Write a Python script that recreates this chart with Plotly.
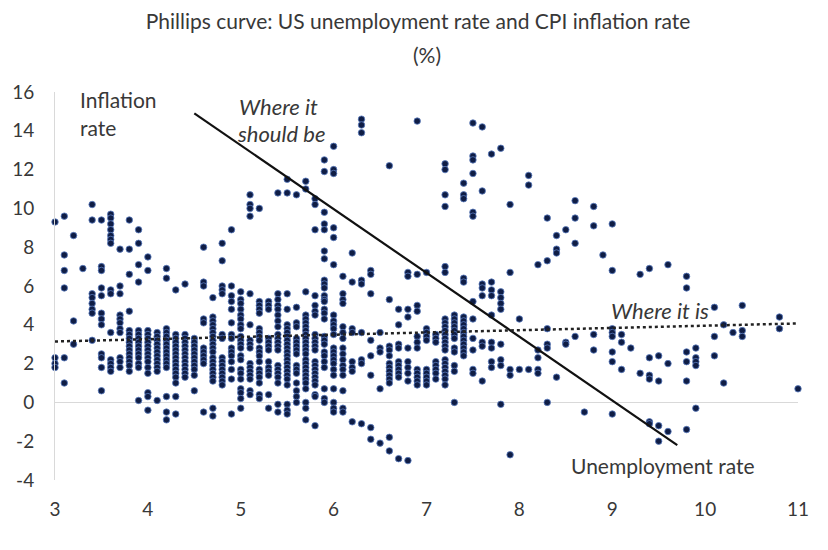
import plotly.graph_objects as go

# unemployment rate columns (x) and the CPI inflation readings stacked in each
unemp_low = [3.0, 3.1, 3.2, 3.3, 3.4, 3.5, 3.6, 3.7, 3.8, 3.9,
             4.0, 4.1, 4.2, 4.3, 4.4, 4.5, 4.6, 4.7, 4.8, 4.9]
infl_low = [
    [9.3, 2.3, 2.0, 1.8],
    [9.6, 7.6, 6.8, 5.9, 2.3, 1.0],
    [8.6, 4.2, 3.0],
    [6.9],
    [10.2, 9.4, 5.6, 5.4, 5.1, 4.8, 4.6, 3.2],
    [9.4, 7.0, 6.8, 5.9, 5.5, 4.6, 4.3, 4.0, 2.5, 2.3, 1.8, 0.6],
    [9.7, 9.5, 9.2, 8.9, 8.6, 8.4, 8.2, 5.8, 5.6, 3.6, 2.2, 2.0, 1.8, 1.6],
    [7.9, 6.0, 5.6, 4.5, 4.3, 4.1, 3.8, 3.6, 2.3, 2.1, 1.8],
    [9.4, 7.9, 6.6, 4.7, 3.7, 3.5, 3.3, 3.1, 2.9, 2.7, 2.5, 2.3, 2.1, 1.9, 1.6],
    [8.9, 8.2, 7.1, 6.2, 3.7, 3.5, 3.3, 3.1, 2.9, 2.7, 2.5, 2.3, 2.0, 1.8, 0.1],
    [7.5, 6.8, 3.7, 3.5, 3.3, 3.1, 2.9, 2.7, 2.5, 2.3, 2.1, 1.8, 1.5, 0.5, 0.3, -0.4],
    [3.6, 3.4, 3.2, 3.0, 2.8, 2.6, 2.4, 2.2, 2.0, 1.8, 1.6, 0.1],
    [6.9, 6.4, 3.8, 3.6, 3.4, 3.2, 3.0, 2.8, 2.6, 2.4, 2.2, 2.0, 1.8, 0.3, -0.5, -0.9],
    [5.8, 3.5, 3.3, 3.1, 2.9, 2.7, 2.5, 2.3, 2.1, 1.9, 1.7, 1.5, 1.3, 1.0, 0.3, -0.6],
    [6.1, 3.5, 3.3, 3.1, 2.9, 2.7, 2.5, 2.3, 2.1, 1.9, 1.7, 1.5, 1.3],
    [3.3, 3.1, 2.9, 2.7, 2.5, 2.3, 2.1, 1.9, 1.7, 1.4, 0.6],
    [8.0, 6.2, 6.0, 4.3, 4.1, 2.8, 2.6, 2.4, 2.2, 2.0, -0.5],
    [5.4, 4.4, 4.2, 4.0, 3.8, 3.6, 3.4, 3.2, 3.0, 2.8, 2.6, 2.3, 2.1, 1.9, 1.7,
     1.5, 1.3, 1.1, -0.3, -0.7],
    [8.2, 7.3, 6.0, 5.8, 5.6, 3.5, 3.3, 2.3, 2.1, 1.9, 1.7, 1.5, 1.3, 1.1, 0.9],
    [8.9, 6.0, 5.5, 5.2, 4.8, 4.1, 3.5, 3.3, 2.8, 2.6, 2.4, 2.1, 1.7, 1.2, -0.6],
]

unemp_mid = [5.0, 5.1, 5.2, 5.3, 5.4, 5.5, 5.6, 5.7, 5.8, 5.9,
             6.0, 6.1, 6.2, 6.3, 6.4, 6.5, 6.6, 6.7, 6.8, 6.9]
infl_mid = [
    [5.7, 5.3, 5.1, 4.8, 4.5, 4.3, 4.0, 3.8, 3.4, 3.2, 3.0, 2.8, 2.4, 2.2, 1.7,
     1.5, 1.2, 0.7, 0.5, 0.2, -0.3],
    [10.7, 10.2, 10.0, 9.6, 5.6, 4.0, 3.2, 3.0, 2.8, 2.0, 1.8, 1.6, 1.4, 1.2, 0.6, 0.4],
    [10.0, 5.2, 5.0, 4.8, 4.6, 3.8, 3.6, 3.4, 3.2, 2.8, 2.6, 2.4, 2.1, 1.7, 1.5,
     1.3, 1.0, 0.4, 0.2],
    [5.2, 5.0, 4.8, 3.3, 3.1, 2.9, 2.7, 2.1, 1.8, 1.6, 1.4, 0.4, -0.3],
    [10.8, 5.6, 5.3, 5.0, 4.8, 4.5, 4.2, 3.9, 3.5, 3.3, 3.1, 2.9, 2.7, 1.9, 1.7,
     1.5, 1.3, 1.0, -0.1, -0.5],
    [11.5, 10.8, 5.6, 4.8, 4.0, 3.8, 3.6, 3.4, 3.2, 3.0, 2.8, 2.6, 2.4, 2.2, 2.0,
     1.8, 1.6, 1.4, 1.2, 0.9, -0.1, -0.4, -0.6],
    [10.7, 4.9, 4.1, 3.9, 3.3, 3.1, 2.9, 2.7, 2.5, 1.9, 1.7, 1.5, 1.0, 0.6, 0.3, 0.0],
    [11.4, 11.0, 5.7, 4.5, 4.3, 4.1, 3.9, 3.7, 3.5, 3.3, 3.1, 2.9, 2.7, 2.5, 2.2,
     2.0, 1.8, 1.6, 1.4, 1.2, 1.0, 0.7, 0.0, -0.3, -0.9],
    [10.5, 10.2, 8.9, 5.5, 5.0, 4.7, 4.5, 3.5, 3.3, 3.1, 2.9, 2.7, 2.1, 1.9, 1.7,
     1.5, 1.3, 1.1, 0.9, 0.4, 0.3, -1.2],
    [12.5, 11.9, 9.8, 9.2, 8.9, 7.8, 7.4, 6.3, 6.1, 5.9, 5.5, 5.3, 5.2, 4.8, 4.6,
     4.3, 3.4, 3.2, 3.0, 2.6, 2.4, 2.1, 1.8, 0.7, 0.2, 0.0],
    [13.2, 12.0, 11.8, 9.0, 8.5, 7.1, 4.5, 4.2, 4.0, 3.8, 3.5, 2.8, 2.6, 2.4, 2.2,
     2.0, 1.7, 1.4, 0.7, 0.0, -0.3, -0.5],
    [6.5, 5.6, 5.3, 5.1, 3.9, 3.6, 3.3, 2.8, 2.5, 2.2, 1.9, 1.7, 1.4, 0.6, -0.3, -0.5],
    [7.7, 6.2, 3.8, 3.6, 2.1, 1.8, 1.6, -1.0],
    [14.6, 14.3, 13.9, 6.3, 6.1, 3.6, 2.2, 2.0, -1.1],
    [6.8, 6.6, 5.6, 3.2, 2.4, 1.4, -1.3, -1.9],
    [3.6, 2.8, 2.6, 0.7, -2.1],
    [12.2, 5.3, 2.9, 2.7, 2.4, 2.0, 1.8, 1.6, 1.4, 1.2, 1.0, -1.8, -2.5],
    [4.8, 4.0, 3.0, 2.8, 2.1, 1.9, 1.7, 1.5, 1.3, -2.9],
    [6.7, 6.5, 4.8, 4.4, 2.8, 2.1, 1.8, 1.5, 1.1, -3.0],
    [14.5, 6.6, 5.0, 4.7, 3.4, 3.1, 2.8, 1.7, 1.5, 1.3, 1.1, 0.9],
]

unemp_high = [7.0, 7.1, 7.2, 7.3, 7.4, 7.5, 7.6, 7.7, 7.8, 7.9,
              8.0, 8.1, 8.2, 8.3, 8.4, 8.5, 8.6, 8.7, 8.8, 8.9,
              9.0, 9.1, 9.2, 9.3, 9.4, 9.5, 9.6, 9.8, 9.9, 10.1,
              10.2, 10.3, 10.4, 10.8, 11.0]
infl_high = [
    [6.7, 3.8, 3.6, 3.4, 3.2, 1.7, 1.5, 1.3, 1.1, 0.9],
    [3.5, 3.3, 3.1, 2.1, 1.9, 1.7, 1.5, 1.2],
    [12.3, 12.0, 10.7, 10.1, 7.0, 6.7, 4.3, 4.1, 3.9, 3.7, 3.5, 3.3, 3.1, 2.9,
     2.7, 2.2, 2.0, 1.8, 1.6, 1.4, 1.2, 0.9],
    [4.5, 4.3, 4.1, 3.9, 3.7, 3.5, 3.3, 2.8, 2.6, 1.9, 1.6, 0.0],
    [11.3, 10.7, 10.5, 6.4, 6.2, 4.4, 4.2, 4.0, 3.8, 3.6, 3.4, 3.2, 3.0, 2.8, 2.6, 2.4],
    [14.4, 12.7, 12.5, 11.8, 9.8, 9.6, 5.2, 4.3, 3.3, 2.7, 1.7, 1.5],
    [14.2, 10.9, 6.1, 5.9, 5.5, 3.1, 2.9, 1.1],
    [12.8, 6.2, 5.8, 5.5, 4.5, 3.1, 2.8, 2.1, 1.8],
    [13.1, 5.7, 5.4, 5.1, 4.8, 3.0, 2.2, 1.9, -0.1],
    [10.2, 6.7, 1.7, 1.4, -2.7],
    [4.3, 1.7],
    [11.7, 11.2, 1.7],
    [7.1, 2.7, 2.3, 1.7, 1.5],
    [9.5, 7.3, 3.8, 3.0, 2.8, 0.0],
    [8.6, 7.9, 7.7, 1.3],
    [8.9, 3.1, 3.0],
    [10.4, 9.5, 8.2, 3.4],
    [-0.5],
    [10.1, 9.1, 3.5, 2.7],
    [7.6],
    [9.2, 6.8, 3.8, 3.6, 3.4, 2.6, 2.1, -0.6],
    [3.5, 3.1, 1.7],
    [2.8],
    [6.6, 1.5],
    [6.9, 2.3, 1.4, 1.2, -1.0, -1.1],
    [2.4, 1.1, -1.2, -2.0],
    [7.1, 2.0, -1.5],
    [6.5, 5.9, 2.6, 2.1, 1.1, -1.4],
    [2.8, 2.3, 2.1, 1.9, -0.3],
    [4.9, 3.4, 2.4],
    [4.0, 1.0],
    [3.6],
    [5.0, 3.7, 3.4],
    [4.4, 3.8],
    [0.7],
]

# hand-drawn reference lines (start and end points)
should_x = [4.5, 9.7]
should_y = [14.9, -2.2]
trend_x = [3.0, 11.0]
trend_y = [3.14, 4.07]

x_ticks = [3, 4, 5, 6, 7, 8, 9, 10, 11]
y_ticks = [-4, -2, 0, 2, 4, 6, 8, 10, 12, 14, 16]

FONT = "Lato, Open Sans, sans-serif"
GREY = "#383838"

# the page body adds an 8px margin, so the figure is 8px smaller each way
W, H = 820, 542

xs, ys = [], []
for cols, vals in ((unemp_low, infl_low), (unemp_mid, infl_mid), (unemp_high, infl_high)):
    for u, column in zip(cols, vals):
        for v in column:
            xs.append(u)
            ys.append(v)

fig = go.Figure()
fig.add_trace(go.Scatter(
    x=xs, y=ys, mode="markers", cliponaxis=False,
    marker=dict(size=6.5, color="#0f1d45", line=dict(color="#5a7cc0", width=0.8)),
    hoverinfo="x+y",
))
fig.add_trace(go.Scatter(
    x=should_x, y=should_y, mode="lines",
    line=dict(color="#111111", width=2.2),
))
fig.add_trace(go.Scatter(
    x=trend_x, y=trend_y, mode="lines",
    line=dict(color="#222222", width=2.5, dash="dot"),
))

label_font = dict(family=FONT, size=21, color=GREY)
italic_font = dict(family=FONT, size=22, color=GREY, style="italic")
notes = [
    ("Inflation", 3.25, 15.62, label_font),
    ("rate", 3.25, 14.18, label_font),
    ("Where it", 4.96, 15.26, italic_font),
    ("should be", 4.94, 13.87, italic_font),
    ("Where it is", 8.97, 4.74, italic_font),
    ("Unemployment rate", 8.53, -3.25, label_font),
]
for text, x, y, f in notes:
    fig.add_annotation(text=text, x=x, y=y, xanchor="left", yanchor="middle",
                       showarrow=False, font=f)

fig.add_annotation(text="(%)", xref="paper", yref="paper", x=0.5, y=1.0,
                   xanchor="center", yanchor="middle", yshift=38, showarrow=False,
                   font=dict(family=FONT, size=21, color=GREY))

fig.update_layout(
    width=W, height=H,
    margin=dict(l=47, r=30, t=84, b=70),
    paper_bgcolor="white", plot_bgcolor="white",
    showlegend=False,
    title=dict(text="Phillips curve: US unemployment rate and CPI inflation rate",
               x=0.5, xanchor="center", y=1 - 14 / H, yanchor="middle",
               font=dict(family=FONT, size=21, color=GREY)),
    font=dict(family=FONT, color=GREY),
)
fig.update_xaxes(
    range=[3, 11], tickvals=x_ticks, ticktext=[str(t) for t in x_ticks],
    showgrid=False, zeroline=False, showline=False,
    automargin=False, ticks="outside", ticklen=12, tickcolor="rgba(0,0,0,0)",
    tickfont=dict(family=FONT, size=19, color=GREY),
)
fig.update_yaxes(
    range=[-4, 16], tickvals=y_ticks, ticktext=[str(t) for t in y_ticks],
    showgrid=False, automargin=False,
    zeroline=True, zerolinecolor="#d9d9d9", zerolinewidth=1,
    showline=True, linecolor="#d9d9d9", linewidth=1,
    ticks="outside", ticklen=16, tickcolor="rgba(0,0,0,0)",
    tickfont=dict(family=FONT, size=19, color=GREY),
)

fig.write_html("out.html")
